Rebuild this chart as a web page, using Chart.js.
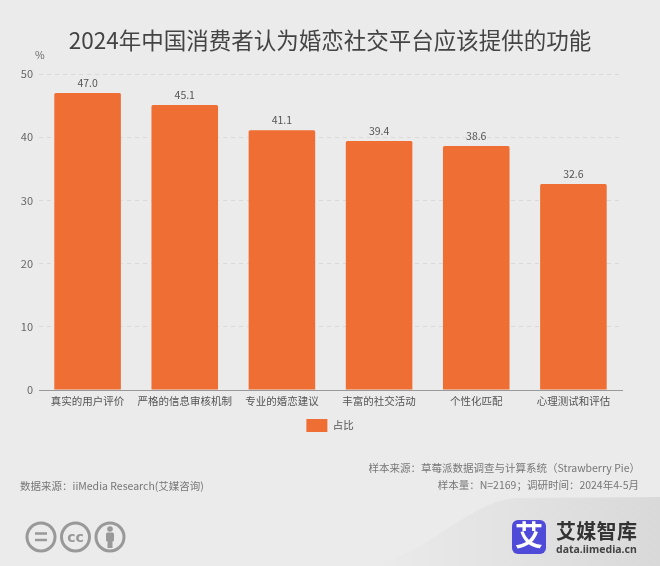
<!DOCTYPE html>
<html lang="zh">
<head>
<meta charset="utf-8">
<script src="https://cdn.jsdelivr.net/npm/chart.js@4"></script>
<style>
  html, body { margin: 0; padding: 0; background: #ebebeb; }
  body { position: relative; width: 660px; height: 566px; overflow: hidden;
    font-family: "Noto Sans CJK SC", sans-serif; color: #666; }
  #bg, #marks { position: absolute; left: 0; top: 0; }
  #wrap { position: absolute; left: 0; top: 0; width: 660px; height: 566px; }
  .t { position: absolute; white-space: nowrap; line-height: 1; }
  #title { left: 0; width: 660px; top: 28px; text-align: center; font-size: 22.5px; color: #444; }
  #unit { left: 35px; top: 50px; font-size: 10.5px; color: #666; }
  #src { left: 20px; top: 481px; font-size: 10.5px; color: #777; }
  #s1 { right: 20px; top: 463px; font-size: 10.5px; color: #777; }
  #s2 { right: 21px; top: 480px; font-size: 10.5px; color: #777; }
  #brand { left: 556px; top: 521px; font-size: 20px; font-weight: 700; color: #333; letter-spacing: .3px; }
  #url { left: 556px; top: 544px; font-size: 10.5px; font-weight: 700; color: #444; font-family: "Noto Sans", sans-serif; }
</style>
</head>
<body>
<svg id="bg" width="660" height="566">
  <defs>
    <linearGradient id="fade" x1="0" y1="0" x2="1" y2="0">
      <stop offset="0" stop-color="#ebebeb"/>
      <stop offset="0.5" stop-color="#e2e2e2"/>
      <stop offset="1" stop-color="#d9d9d9"/>
    </linearGradient>
  </defs>
  <path d="M370 566 C 430 555, 470 498, 520 498 L660 497 L660 566 Z" fill="url(#fade)"/>
</svg>
<div id="wrap"><canvas id="chart" width="660" height="566"></canvas></div>
<svg id="marks" width="660" height="566">
  <g fill="none" stroke="#999" stroke-width="3">
    <circle cx="41" cy="537" r="14"/>
    <circle cx="75.500" cy="537" r="14"/>
    <circle cx="110" cy="537" r="14"/>
  </g>
  <g stroke="#999" stroke-width="2.500">
    <line x1="35" y1="533.500" x2="47" y2="533.500"/>
    <line x1="35" y1="540" x2="47" y2="540"/>
  </g>
  <text x="75.500" y="542" text-anchor="middle" font-size="14" font-weight="700" fill="#999" font-family="DejaVu Sans">cc</text>
  <circle cx="110" cy="529" r="2.800" fill="#999"/>
  <rect x="106" y="532.500" width="8" height="9" rx="1.500" fill="#999"/>
  <rect x="107.500" y="540" width="5" height="8" fill="#999"/>
  <rect x="512" y="520" width="34" height="34" rx="6" fill="#4f4bd8"/>
  <text x="529" y="546" text-anchor="middle" font-size="28" font-weight="700" fill="#fff" font-family="Noto Sans CJK SC">艾</text>
</svg>
<div class="t" id="title">2024年中国消费者认为婚恋社交平台应该提供的功能</div>
<div class="t" id="unit">%</div>
<div class="t" id="src">数据来源：iiMedia Research(艾媒咨询)</div>
<div class="t" id="s1">样本来源：草莓派数据调查与计算系统（Strawberry Pie）</div>
<div class="t" id="s2">样本量：N=2169；调研时间：2024年4-5月</div>
<div class="t" id="brand">艾媒智库</div>
<div class="t" id="url">data.iimedia.cn</div>

<script>
const categories = ["真实的用户评价", "严格的信息审核机制", "专业的婚恋建议", "丰富的社交活动", "个性化匹配", "心理测试和评估"];
const shareValues = [47.0, 45.1, 41.1, 39.4, 38.6, 32.6];
const valueLabels = ["47.0", "45.1", "41.1", "39.4", "38.6", "32.6"];
const yTicks = [0, 10, 20, 30, 40, 50];
const seriesName = "占比";

const ORANGE = "#ee6e34";
const FONT = '"Noto Sans CJK SC", sans-serif';

// values above the bars
const barLabels = {
  id: "barLabels",
  afterDatasetsDraw(chart) {
    const { ctx } = chart;
    ctx.save();
    ctx.font = "10.5px " + FONT;
    ctx.fillStyle = "#555";
    ctx.textAlign = "center";
    ctx.textBaseline = "bottom";
    chart.getDatasetMeta(0).data.forEach((bar, i) => {
      ctx.fillText(valueLabels[i], bar.x, bar.y - 5);
    });
    ctx.restore();
  },
};

// legend is laid out across 0..right edge; move it under the plot centre
const centerLegend = {
  id: "centerLegend",
  afterLayout(chart) {
    chart.legend.left += 19;
    chart.legend.right += 19;
  },
};

new Chart(document.getElementById("chart"), {
  type: "bar",
  data: {
    labels: categories,
    datasets: [{
      label: seriesName,
      data: shareValues,
      backgroundColor: ORANGE,
      borderRadius: { topLeft: 1.5, topRight: 1.5 },
      borderSkipped: "bottom",
      barPercentage: 0.685,
      categoryPercentage: 1,
    }],
  },
  options: {
    responsive: false,
    animation: false,
    devicePixelRatio: 1,
    layout: { padding: { left: 0, right: 38, top: 74, bottom: 124 } },
    plugins: {
      tooltip: { enabled: false },
      legend: {
        position: "bottom",
        labels: { boxWidth: 21, boxHeight: 13, padding: 5, color: "#555", font: { family: FONT, size: 10.5 } },
      },
    },
    scales: {
      x: {
        afterFit: (s) => { s.height = 24; },
        grid: { display: false, drawTicks: false },
        border: { color: "#999", width: 1 },
        ticks: { color: "#555", font: { family: FONT, size: 10.5 }, padding: 5, maxRotation: 0, autoSkip: false },
      },
      y: {
        min: 0,
        max: 50,
        afterFit: (s) => { s.width = 39; },
        afterBuildTicks: (s) => { s.ticks = yTicks.map((v) => ({ value: v })); },
        grid: { color: "#d9d9d9", drawTicks: false },
        border: { display: false, dash: [4, 4] },
        ticks: { color: "#666", font: { family: FONT, size: 11 }, padding: 6 },
      },
    },
  },
  plugins: [barLabels, centerLegend],
});
</script>
</body>
</html>
